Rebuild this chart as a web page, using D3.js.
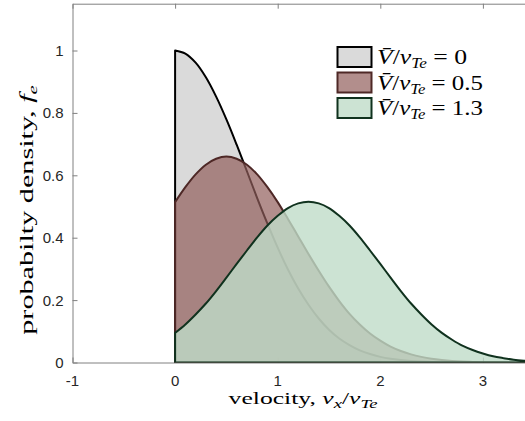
<!DOCTYPE html>
<html>
<head>
<meta charset="utf-8">
<script src="https://cdn.jsdelivr.net/npm/d3@7"></script>
<style>
  body { margin: 0; background: #fff; }
  svg { display: block; }
  .tick-label { font-family: "Liberation Sans", Arial, sans-serif; font-size: 15px; fill: #262626; }
  .math { font-family: "Liberation Serif", "Times New Roman", serif; fill: #000; }
</style>
</head>
<body>
<svg id="chart" width="525" height="421"></svg>
<script>
// Normalised velocity grid, v_x / v_Te
const velocity = [0.0, 0.1, 0.2, 0.3, 0.4, 0.5, 0.6, 0.7, 0.8, 0.9,
                  1.0, 1.1, 1.2, 1.3, 1.4, 1.5, 1.6, 1.7, 1.8, 1.9,
                  2.0, 2.1, 2.2, 2.3, 2.4, 2.5, 2.6, 2.7, 2.8, 2.9,
                  3.0, 3.1, 3.2, 3.3, 3.4, 3.5];

// Electron distribution f_e for drift V/v_Te = 0
const fDrift0 = [1.000, 0.990, 0.961, 0.914, 0.852, 0.779, 0.698, 0.613, 0.527, 0.445,
                 0.368, 0.298, 0.237, 0.185, 0.141, 0.105, 0.077, 0.056, 0.039, 0.027,
                 0.018, 0.012, 0.008, 0.005, 0.003, 0.002, 0.001, 0.001, 0.000, 0.000,
                 0.000, 0.000, 0.000, 0.000, 0.000, 0.000];

// drift V/v_Te = 0.5
const fDrift05 = [0.514, 0.562, 0.603, 0.634, 0.653, 0.660, 0.653, 0.634, 0.603, 0.562,
                  0.514, 0.460, 0.404, 0.348, 0.294, 0.243, 0.197, 0.156, 0.122, 0.093,
                  0.070, 0.051, 0.037, 0.026, 0.018, 0.012, 0.008, 0.005, 0.003, 0.002,
                  0.001, 0.001, 0.000, 0.000, 0.000, 0.000];

// drift V/v_Te = 1.3
const fDrift13 = [0.095, 0.122, 0.154, 0.189, 0.229, 0.272, 0.316, 0.359, 0.401, 0.439,
                  0.470, 0.495, 0.510, 0.515, 0.510, 0.495, 0.470, 0.439, 0.401, 0.359,
                  0.316, 0.272, 0.229, 0.189, 0.154, 0.122, 0.095, 0.073, 0.054, 0.040,
                  0.029, 0.020, 0.014, 0.009, 0.006, 0.004];

const driftLabels = ["0", "0.5", "1.3"];
const xTicks = [-1, 0, 1, 2, 3];
const yTicks = [0, 0.2, 0.4, 0.6, 0.8, 1];

const series = [
  { values: fDrift0,  fill: "rgb(202,202,202)", alpha: 0.7, stroke: "#000000" },
  { values: fDrift05, fill: "rgb(146,94,91)",   alpha: 0.7, stroke: "#4e2826" },
  { values: fDrift13, fill: "rgb(191,220,200)", alpha: 0.8, stroke: "#10321e" }
];

const svg = d3.select("#chart");
const plot = { left: 72.5, top: 3.7, bottom: 362.5 };
plot.right = plot.left + 4.5 * 102.6;

const x = d3.scaleLinear().domain([-1, 3.5]).range([plot.left, plot.right]);
const y = d3.scaleLinear().domain([0, 1.15]).range([plot.bottom, plot.top]);

// Stretch a text element along its own baseline to a given length
function fitLength(sel, anchorX, anchorY, rotate, length) {
  const w = sel.node().getBBox().width;
  const s = length / w;
  sel.attr("transform",
    `translate(${anchorX},${anchorY}) rotate(${rotate}) scale(${s},1)`);
}

svg.append("defs").append("clipPath").attr("id", "plot-clip")
  .append("rect")
  .attr("x", plot.left).attr("y", plot.top)
  .attr("width", plot.right - plot.left).attr("height", plot.bottom - plot.top);

// Axes frame with inward ticks
const axisColor = "#808080";
const frame = svg.append("g");
frame.append("g").attr("transform", `translate(0,${plot.bottom})`)
  .call(d3.axisBottom(x).tickValues(xTicks).tickSizeInner(-5).tickSizeOuter(0).tickFormat(""));
frame.append("g").attr("transform", `translate(0,${plot.top})`)
  .call(d3.axisTop(x).tickValues(xTicks).tickSizeInner(-5).tickSizeOuter(0).tickFormat(""));
frame.append("g").attr("transform", `translate(${plot.left},0)`)
  .call(d3.axisLeft(y).tickValues(yTicks).tickSizeInner(-5).tickSizeOuter(0).tickFormat(""));
frame.selectAll(".domain, .tick line").attr("stroke", axisColor).attr("stroke-width", 1);

// Tick labels
svg.append("g").selectAll("text").data(xTicks).join("text")
  .attr("class", "tick-label")
  .attr("x", d => x(d)).attr("y", plot.bottom + 23.5)
  .attr("text-anchor", "middle")
  .text(d => String(d));
svg.append("g").selectAll("text").data(yTicks).join("text")
  .attr("class", "tick-label")
  .attr("x", plot.left - 9).attr("y", d => y(d) + 5.5)
  .attr("text-anchor", "end")
  .text(d => String(d));

// Filled distributions, drawn in order so later ones overlay earlier ones
const area = d3.area()
  .x((d, i) => x(velocity[i]))
  .y0(y(0))
  .y1(d => y(d))
  .curve(d3.curveCatmullRom.alpha(0.5));

const areas = svg.append("g").attr("clip-path", "url(#plot-clip)");
series.forEach(s => {
  areas.append("path")
    .attr("d", area(s.values))
    .attr("fill", s.fill)
    .attr("fill-opacity", s.alpha)
    .attr("stroke", s.stroke)
    .attr("stroke-width", 2)
    .attr("stroke-linejoin", "round");
});

// Axis titles
const xLabel = svg.append("text").attr("class", "math")
  .attr("text-anchor", "middle")
  .style("font-size", "16.5px");
xLabel.append("tspan").text("velocity, ");
xLabel.append("tspan").attr("font-style", "italic").text("v");
xLabel.append("tspan").attr("font-style", "italic").attr("font-size", "12px").attr("dy", 4).text("x");
xLabel.append("tspan").attr("dy", -4).text("/");
xLabel.append("tspan").attr("font-style", "italic").text("v");
xLabel.append("tspan").attr("font-style", "italic").attr("font-size", "12px").attr("dy", 4).text("Te");
fitLength(xLabel, 303, 404, 0, 150);

const yLabel = svg.append("text").attr("class", "math")
  .attr("text-anchor", "middle")
  .style("font-size", "19px");
yLabel.append("tspan").text("probabilty density, ");
yLabel.append("tspan").attr("font-style", "italic").text("f");
yLabel.append("tspan").attr("font-style", "italic").attr("font-size", "13px").attr("dy", 4).text("e");
fitLength(yLabel, 33, 210, -90, 250);

// Legend
const legendWidths = [90, 106, 106];
const legend = svg.append("g");
series.forEach((s, i) => {
  const rowY = 47 + i * 25.5;
  legend.append("rect")
    .attr("x", 337.5).attr("y", rowY)
    .attr("width", 34).attr("height", 20)
    .attr("fill", s.fill).attr("fill-opacity", s.alpha)
    .attr("stroke", s.stroke).attr("stroke-width", 2);
  const t = legend.append("text").attr("class", "math")
    .style("font-size", "21px");
  t.append("tspan").attr("font-style", "italic").text("V\u0304");
  t.append("tspan").text("/");
  t.append("tspan").attr("font-style", "italic").text("v");
  t.append("tspan").attr("font-style", "italic").attr("font-size", "14px").attr("dy", 4).text("Te");
  t.append("tspan").attr("dy", -4).text(" = " + driftLabels[i]);
  fitLength(t, 377, rowY + 17, 0, legendWidths[i]);
});
</script>
</body>
</html>
